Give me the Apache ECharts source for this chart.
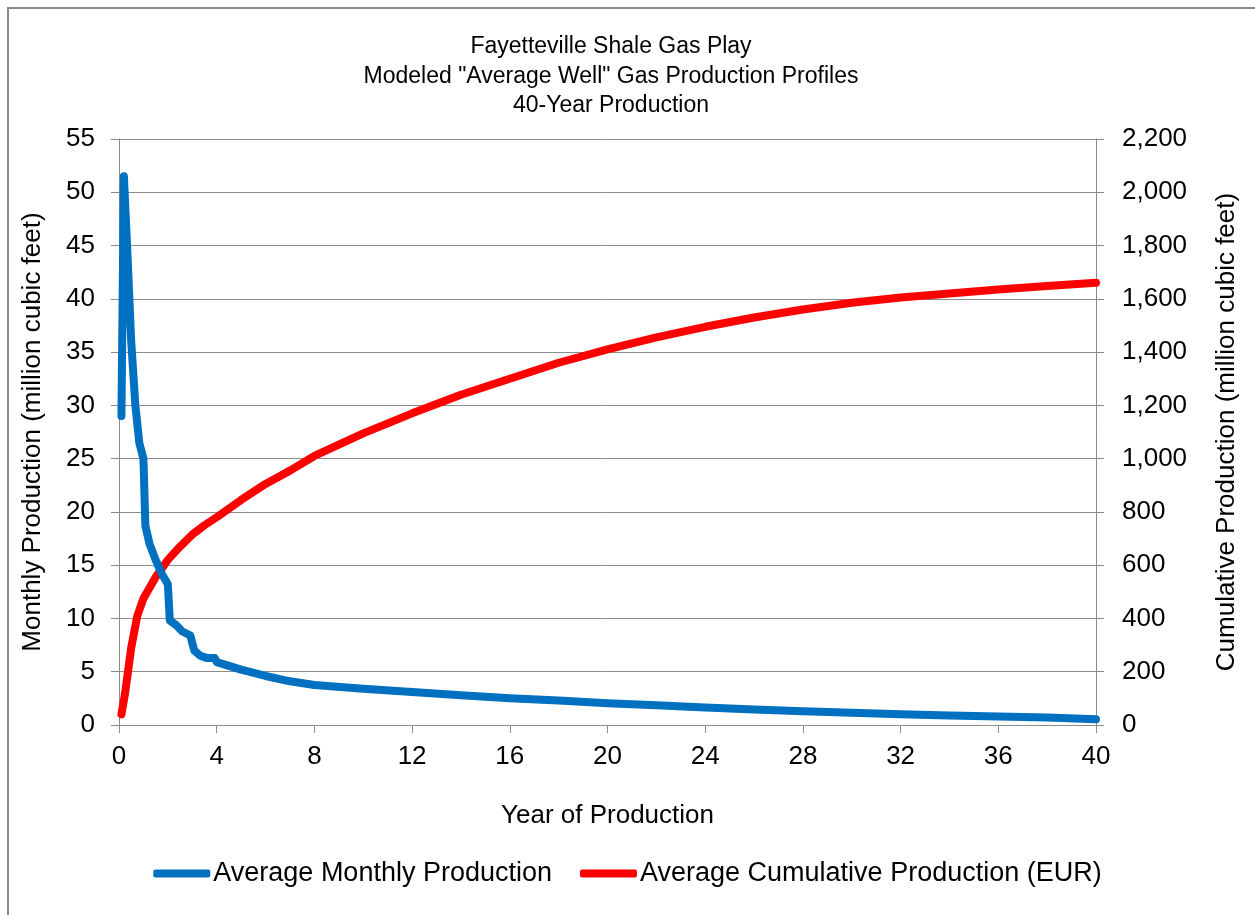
<!DOCTYPE html>
<html>
<head>
<meta charset="utf-8">
<script src="https://cdn.jsdelivr.net/npm/echarts@6/dist/echarts.min.js"></script>
<style>
  html, body { margin: 0; padding: 0; background: #fff; }
  #chart { width: 1255px; height: 915px; }
</style>
</head>
<body>
<div id="chart"></div>
<script>
// monthly production, [year, million cubic feet]
var monthlyProd = [
  [0.1, 29], [0.2, 51.5], [0.33, 45], [0.5, 36], [0.67, 30], [0.83, 26.5],
  [1.0, 25], [1.08, 18.7], [1.25, 17], [1.5, 15.5], [1.75, 14.2], [2.0, 13.2],
  [2.08, 9.8], [2.33, 9.4], [2.58, 8.8], [2.92, 8.4], [3.08, 7.0], [3.33, 6.5],
  [3.58, 6.3], [3.92, 6.3], [4.0, 5.9], [5, 5.2], [6, 4.6], [7, 4.1], [8, 3.75],
  [10, 3.4], [12, 3.1], [14, 2.8], [16, 2.5], [18, 2.3], [20, 2.05], [22, 1.85],
  [24, 1.65], [26, 1.45], [28, 1.3], [30, 1.15], [32, 1.0], [34, 0.9], [36, 0.8],
  [38, 0.7], [40, 0.55]
];
// cumulative production (EUR), [year, million cubic feet]
var cumulativeProd = [
  [0.1, 40], [0.25, 120], [0.5, 290], [0.75, 410], [1, 475], [1.5, 555], [2, 620],
  [2.5, 670], [3, 715], [3.5, 750], [4, 780], [5, 845], [6, 905], [7, 955],
  [8, 1010], [10, 1095], [12, 1170], [14, 1240], [16, 1300], [18, 1360],
  [20, 1410], [22, 1455], [24, 1495], [26, 1530], [28, 1560], [30, 1585],
  [32, 1605], [34, 1620], [36, 1635], [38, 1648], [40, 1660]
];
var seriesNames = ['Average Monthly Production', 'Average Cumulative Production (EUR)'];

var font = 'Liberation Sans, Arial, sans-serif';
var grey = '#8c8c8c';

var myChart = echarts.init(document.getElementById('chart'));
myChart.setOption({
  animation: false,
  textStyle: { fontFamily: font },
  title: {
    text: 'Fayetteville Shale Gas Play\nModeled "Average Well" Gas Production Profiles\n40-Year Production',
    left: 606,
    top: 27,
    textAlign: 'center',
    textStyle: { fontSize: 23, fontWeight: 'normal', color: '#000', lineHeight: 29.5, fontFamily: font }
  },
  graphic: [{
    type: 'rect',
    shape: { x: 8, y: 8, width: 1400, height: 1000 },
    style: { fill: 'none', stroke: grey, lineWidth: 2 },
    silent: true
  }],
  legend: {
    bottom: 23,
    left: 'center',
    itemWidth: 57,
    itemHeight: 8,
    itemGap: 28,
    icon: 'roundRect',
    textStyle: { fontSize: 27, color: '#000', fontFamily: font, padding: [0, 0, 0, -2] },
    data: seriesNames
  },
  grid: { left: 119, right: 159, top: 139, bottom: 190 },
  xAxis: {
    type: 'value',
    min: 0, max: 40, interval: 4,
    name: 'Year of Production',
    nameLocation: 'middle',
    nameGap: 78,
    nameTextStyle: { fontSize: 26, color: '#000' },
    axisLine: { lineStyle: { color: grey } },
    axisTick: { show: true, length: 8, lineStyle: { color: grey } },
    axisLabel: { fontSize: 26, color: '#000', margin: 19 },
    splitLine: { show: false }
  },
  yAxis: [{
    type: 'value',
    min: 0, max: 55, interval: 5,
    name: 'Monthly Production (million cubic feet)',
    nameLocation: 'middle',
    nameGap: 73,
    nameTextStyle: { fontSize: 26, color: '#000' },
    axisLine: { show: true, lineStyle: { color: grey } },
    axisTick: { show: true, length: 8, lineStyle: { color: grey } },
    axisLabel: { fontSize: 26, color: '#000', margin: 24 },
    splitLine: { show: true, lineStyle: { color: grey, width: 1 } }
  }, {
    type: 'value',
    min: 0, max: 2200, interval: 200,
    name: 'Cumulative Production (million cubic feet)',
    nameLocation: 'middle',
    nameGap: 118,
    nameTextStyle: { fontSize: 26, color: '#000' },
    position: 'right',
    axisLine: { show: true, lineStyle: { color: grey } },
    axisTick: { show: true, length: 8, lineStyle: { color: grey } },
    axisLabel: {
      fontSize: 26, color: '#000', margin: 26,
      formatter: function (v) { return v.toLocaleString('en-US'); }
    },
    splitLine: { show: false }
  }],
  series: [{
    name: seriesNames[0],
    type: 'line',
    yAxisIndex: 0,
    data: monthlyProd,
    showSymbol: false,
    lineStyle: { color: '#0070C0', width: 8, cap: 'round', join: 'round' },
    itemStyle: { color: '#0070C0' },
    z: 3
  }, {
    name: seriesNames[1],
    type: 'line',
    yAxisIndex: 1,
    data: cumulativeProd,
    showSymbol: false,
    lineStyle: { color: '#FF0000', width: 8, cap: 'round', join: 'round' },
    itemStyle: { color: '#FF0000' },
    z: 2
  }]
});
</script>
</body>
</html>
